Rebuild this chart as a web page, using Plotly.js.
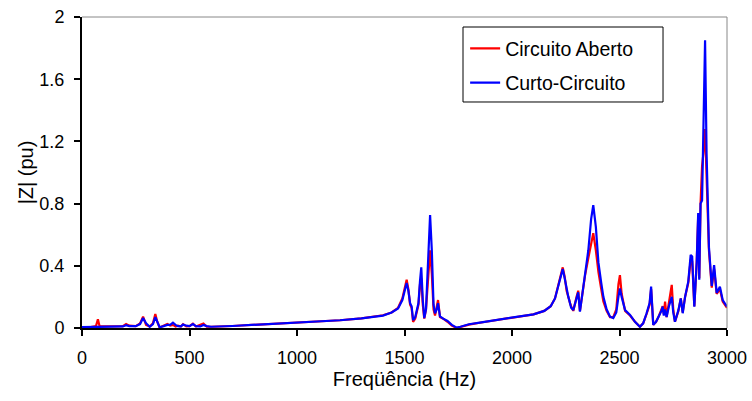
<!DOCTYPE html>
<html>
<head>
<meta charset="utf-8">
<script src="https://cdn.plot.ly/plotly-3.0.1.min.js"></script>
<style>html,body{margin:0;padding:0;background:#fff;}#chart{width:752px;height:401px;}</style>
</head>
<body>
<div id="chart"></div>
<script>
const freq = [0,40,65,74,82,120,190,205,220,250,270,284,298,315,330,341,350,361,380,397,410,423,435,447,460,470,485,500,516,530,550,565,580,600,700,800,900,1000,1100,1200,1300,1350,1400,1440,1470,1490,1502,1510,1518,1526,1533,1540,1550,1565,1572,1578,1585,1592,1600,1610,1619,1627,1635,1642,1650,1656,1665,1680,1700,1720,1743,1760,1800,1850,1900,1950,2000,2050,2100,2150,2180,2200,2220,2236,2245,2254,2262,2266,2270,2275,2285,2300,2308,2316,2330,2340,2355,2368,2378,2390,2402,2415,2425,2440,2456,2471,2485,2495,2502,2510,2526,2549,2572,2595,2610,2626,2640,2647,2652,2657,2670,2681,2695,2701,2706,2712,2719,2730,2743,2750,2758,2774,2785,2794,2805,2820,2831,2838,2848,2859,2866,2871,2877,2884,2890,2898,2905,2916,2929,2940,2952,2967,2980,3000];
const zAberto = [0.005,0.006,0.012,0.056,0.01,0.01,0.012,0.026,0.015,0.012,0.03,0.073,0.02,0.01,0.03,0.09,0.04,0.003,0.015,0.026,0.015,0.02,0.01,0.015,0.01,0.025,0.01,0.012,0.028,0.01,0.02,0.028,0.008,0.008,0.013,0.02,0.027,0.033,0.04,0.05,0.062,0.07,0.082,0.1,0.13,0.19,0.26,0.31,0.25,0.15,0.13,0.04,0.06,0.15,0.28,0.32,0.15,0.06,0.12,0.3,0.5,0.35,0.12,0.08,0.14,0.18,0.07,0.06,0.04,0.015,0.0,0.008,0.022,0.034,0.045,0.055,0.065,0.076,0.088,0.11,0.14,0.19,0.31,0.39,0.33,0.24,0.2,0.17,0.16,0.14,0.11,0.2,0.24,0.11,0.26,0.34,0.45,0.55,0.61,0.5,0.36,0.25,0.17,0.11,0.07,0.07,0.12,0.28,0.34,0.22,0.11,0.08,0.04,0.008,0.03,0.09,0.15,0.25,0.1,0.02,0.04,0.07,0.12,0.14,0.09,0.17,0.07,0.17,0.277,0.12,0.04,0.11,0.19,0.1,0.2,0.29,0.44,0.43,0.14,0.42,0.72,0.32,0.8,1.04,1.12,1.28,1.0,0.5,0.26,0.38,0.22,0.25,0.17,0.13];
const zCurto = [0.005,0.006,0.007,0.008,0.008,0.008,0.01,0.018,0.012,0.012,0.025,0.064,0.03,0.008,0.025,0.07,0.04,0.005,0.012,0.02,0.02,0.034,0.02,0.012,0.01,0.022,0.015,0.012,0.025,0.012,0.01,0.02,0.012,0.008,0.013,0.02,0.027,0.034,0.041,0.05,0.062,0.07,0.08,0.1,0.125,0.18,0.24,0.29,0.24,0.16,0.14,0.05,0.07,0.16,0.3,0.39,0.18,0.064,0.12,0.4,0.727,0.5,0.15,0.095,0.12,0.16,0.075,0.06,0.045,0.02,0.002,0.008,0.024,0.035,0.046,0.055,0.065,0.075,0.088,0.11,0.14,0.19,0.3,0.38,0.32,0.24,0.2,0.18,0.16,0.13,0.115,0.18,0.23,0.105,0.25,0.35,0.5,0.7,0.79,0.65,0.42,0.29,0.2,0.12,0.073,0.064,0.1,0.2,0.255,0.2,0.115,0.084,0.04,0.008,0.03,0.095,0.16,0.266,0.1,0.02,0.04,0.07,0.11,0.137,0.08,0.12,0.07,0.14,0.2,0.1,0.04,0.115,0.19,0.095,0.2,0.3,0.47,0.46,0.137,0.42,0.74,0.31,0.8,0.82,1.34,1.85,1.12,0.52,0.27,0.405,0.225,0.266,0.18,0.137];
const xTicks = [0,500,1000,1500,2000,2500,3000];
const yTicks = [0,0.4,0.8,1.2,1.6,2];
const yTickText = ['0','0.4','0.8','1.2','1.6','2'];

const font = 'Liberation Sans, Arial, sans-serif';
const traces = [
  {x: freq, y: zAberto, type: 'scatter', mode: 'lines', name: 'Circuito Aberto', legendgroup: 'a',
   line: {color: '#ff0000', width: 2.2}},
  {x: freq, y: zCurto, type: 'scatter', mode: 'lines', name: 'Curto-Circuito', legendgroup: 'b',
   line: {color: '#0000ff', width: 2.2}}
];
const layout = {
  width: 752, height: 401,
  margin: {l: 82, r: 25, t: 17, b: 73},
  paper_bgcolor: '#fff', plot_bgcolor: '#fff',
  font: {family: font, size: 18, color: '#000'},
  showlegend: true,
  legend: {x: 0.594, y: 0.961, xanchor: 'left', yanchor: 'top',
    borderwidth: 0, bgcolor: 'rgba(0,0,0,0)', traceorder: 'grouped',
    font: {family: font, size: 19.5, color: '#000'}, tracegroupgap: 6, itemwidth: 30},
  xaxis: {range: [0, 3000], tickvals: xTicks, ticktext: xTicks.map(String),
    showgrid: false, zeroline: false, showline: true, linecolor: '#000', linewidth: 2,
    ticks: 'outside', ticklen: 6, tickwidth: 2, tickcolor: '#000', ticklabelstandoff: 6,
    tickfont: {family: font, size: 18},
    title: {text: 'Freqüência (Hz)', font: {family: font, size: 20}, standoff: 4}},
  yaxis: {range: [0, 2], tickvals: yTicks, ticktext: yTickText,
    showgrid: false, zeroline: false, showline: true, linecolor: '#000', linewidth: 2,
    ticks: 'outside', ticklen: 6, tickwidth: 2, tickcolor: '#000', ticklabelstandoff: 6,
    tickfont: {family: font, size: 18},
    title: {text: '|Z| (pu)', font: {family: font, size: 20}, standoff: 0}},
  shapes: [
    {type: 'line', xref: 'paper', yref: 'paper', x0: 0, x1: 1, y0: 1, y1: 1, line: {color: '#888', width: 1}},
    {type: 'line', xref: 'paper', yref: 'paper', x0: 1, x1: 1, y0: 0, y1: 1, line: {color: '#888', width: 1}},
    {type: 'rect', xref: 'paper', yref: 'paper', x0: 0.5907, x1: 0.9008, y0: 0.7267, y1: 0.9678,
     line: {color: '#000', width: 1}, fillcolor: 'rgba(0,0,0,0)', layer: 'above'}
  ]
};
Plotly.newPlot('chart', traces, layout, {displayModeBar: false, staticPlot: true});
</script>
</body>
</html>
